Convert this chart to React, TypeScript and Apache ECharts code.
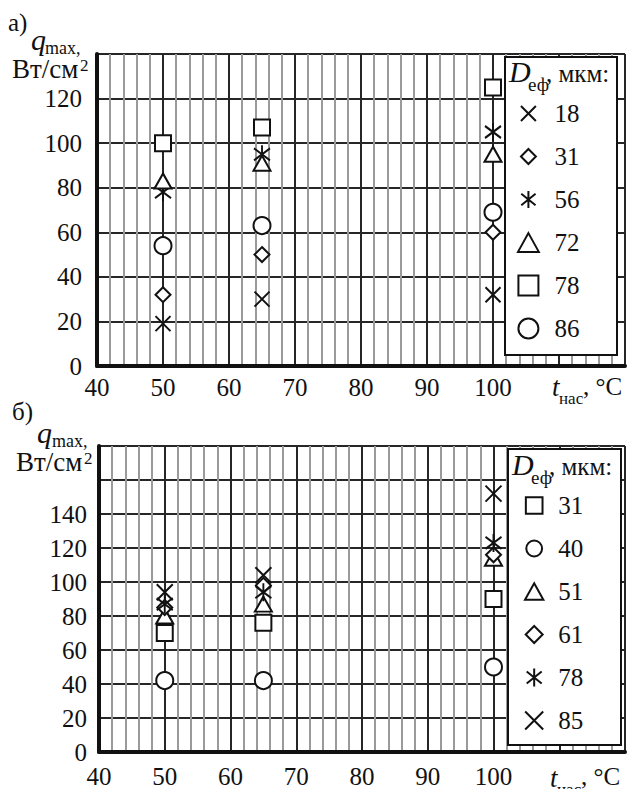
import { useEffect, useRef } from "react";
import * as echarts from "echarts";

// ---- data: panel а) ----
const tempA = [50, 65, 100];
const qA18 = [19, 30, 32];
const qA31 = [32, 50, 60];
const qA56 = [78, 95, 105];
const qA72 = [83, 91, 95];
const qA78 = [100, 107, 125];
const qA86 = [54, 63, 69];

// ---- data: panel б) ----
const tempB = [50, 65, 100];
const qB31 = [70, 76, 90];
const qB40 = [42, 42, 50];
const qB51 = [80, 87, 114];
const qB61 = [85, 98, 116];
const qB78 = [87, 94, 123];
const qB85 = [94, 104, 152];

const xTicksShown = [40, 50, 60, 70, 80, 90, 100];
const yTicksA = [0, 20, 40, 60, 80, 100, 120];
const yTicksB = [0, 20, 40, 60, 80, 100, 120, 140];

const SERIF = "'Liberation Serif', 'Times New Roman', Times, serif";
const INK = "#111";

const X_PATH = "path://M0,0L10,10M10,0L0,10";
const AST_PATH = "path://M5,-1L5,11M0,1L10,9M10,1L0,9";

function padPath(body: string, px: number, py: number, w = 10, h = 10) {
  return `path://M${-px},${-py}M${w + px},${h + py}${body}`;
}
const B_X = "M0,0L10,10M10,0L0,10";
const B_DIA = "M5,0L10,5L5,10L0,5Z";
const B_AST = "M5,0L5,12M0,2L10,10M10,2L0,10";
const B_RECT = "M0,0L10,0L10,10L0,10Z";
const B_CIRC = "M0,5A5,5,0,1,1,10,5A5,5,0,1,1,0,5Z";
const B_TRI = "M5,0L10,9L0,9Z";

function txt(text: string, x: number, baseline: number, size: number, italic = false) {
  return {
    type: "text",
    x,
    y: baseline - 0.34 * size,
    z: 100,
    style: {
      text,
      fontFamily: SERIF,
      fontSize: size,
      fontStyle: italic ? "italic" : "normal",
      fill: INK,
      textAlign: "left",
      textVerticalAlign: "middle",
    },
  };
}

function box(x: number, y: number, w: number, h: number) {
  return {
    type: "rect",
    z: 5,
    shape: { x, y, width: w, height: h },
    style: { fill: "#fff", stroke: INK, lineWidth: 2 },
  };
}

function mkX(gridIndex: number, margin: number) {
  return {
    type: "value",
    gridIndex,
    min: 40,
    max: 120,
    interval: 10,
    axisLine: { show: true, onZero: false, lineStyle: { color: INK, width: 4 } },
    axisTick: { show: false },
    minorTick: { show: false, splitNumber: 5 },
    axisLabel: {
      margin,
      fontFamily: SERIF,
      fontSize: 25,
      color: INK,
      formatter: (v: number) => (xTicksShown.includes(v) ? String(v) : ""),
    },
    splitLine: { show: true, lineStyle: { color: "#262626", width: 2 } },
    minorSplitLine: { show: true, lineStyle: { color: "#9a9a9a", width: 2 } },
  };
}

function mkY(gridIndex: number, max: number, shown: number[], margin: number) {
  return {
    type: "value",
    gridIndex,
    min: 0,
    max,
    interval: 20,
    axisLine: { show: true, onZero: false, lineStyle: { color: INK, width: 4 } },
    axisTick: { show: false },
    axisLabel: {
      margin,
      fontFamily: SERIF,
      fontSize: 25,
      color: INK,
      formatter: (v: number) => (shown.includes(v) ? String(v) : ""),
    },
    splitLine: { show: true, lineStyle: { color: "#262626", width: 2 } },
  };
}

function mkSeries(
  name: string,
  xs: number[],
  ys: number[],
  symbol: string,
  symbolSize: number | number[],
  idx: number
) {
  return {
    type: "scatter",
    name,
    xAxisIndex: idx,
    yAxisIndex: idx,
    data: xs.map((x, i) => [x, ys[i]]),
    symbol,
    symbolSize,
    itemStyle: { color: "#fff", borderColor: INK, borderWidth: 2, opacity: 1 },
    emphasis: { disabled: true },
    z: 3,
  };
}

const legendText = {
  fontFamily: SERIF,
  fontSize: 25,
  color: INK,
};

export default function App() {
  const ref = useRef<HTMLDivElement>(null);
  useEffect(() => {
    if (!ref.current) return;
    const chart = echarts.init(ref.current, undefined, { renderer: "svg" });
    const option: any = {
      animation: false,
      backgroundColor: "#fff",
      textStyle: { fontFamily: SERIF },
      grid: [
        { left: 97, top: 54, right: -1, bottom: 423 },
        { left: 99, top: 446, right: -3, bottom: 36 },
      ],
      xAxis: [mkX(0, 9), mkX(1, 12)],
      yAxis: [mkY(0, 140, yTicksA, 15), mkY(1, 180, yTicksB, 12)],
      legend: [
        {
          orient: "vertical",
          left: 517,
          top: 101,
          padding: 0,
          itemWidth: 42,
          itemHeight: 20,
          itemGap: 18,
          selectedMode: false,
          textStyle: legendText,
          formatter: (n: string) => n.slice(1),
          data: [
            { name: "a18", icon: padPath(B_X, 1.7, 1.7) },
            { name: "a31", icon: padPath(B_DIA, 1.7, 1.7) },
            { name: "a56", icon: padPath(B_AST, 1, 1, 10, 12) },
            { name: "a72", icon: padPath(B_TRI, 0, 0.3, 10, 9) },
            { name: "a78", icon: padPath(B_RECT, 0, 0) },
            { name: "a86", icon: padPath(B_CIRC, 0, 0) },
          ],
          z: 10,
        },
        {
          orient: "vertical",
          left: 524,
          top: 493,
          padding: 0,
          itemWidth: 38,
          itemHeight: 18,
          itemGap: 18,
          selectedMode: false,
          textStyle: legendText,
          formatter: (n: string) => n.slice(1),
          data: [
            { name: "b31", icon: padPath(B_RECT, 0.4, 0.4) },
            { name: "b40", icon: padPath(B_CIRC, 0.7, 0.7) },
            { name: "b51", icon: padPath(B_TRI, 0, 0.4, 10, 9) },
            { name: "b61", icon: padPath(B_DIA, 0.3, 0.3) },
            { name: "b78", icon: padPath(B_AST, 0, 0, 10, 12) },
            { name: "b85", icon: padPath(B_X, 0, 0) },
          ],
          z: 10,
        },
      ],
      series: [
        mkSeries("a18", tempA, qA18, X_PATH, 15, 0),
        mkSeries("a31", tempA, qA31, "diamond", 15, 0),
        mkSeries("a56", tempA, qA56, AST_PATH, [16, 18], 0),
        mkSeries("a72", tempA, qA72, "triangle", [17, 15], 0),
        mkSeries("a78", tempA, qA78, "rect", 16, 0),
        mkSeries("a86", tempA, qA86, "circle", 17, 0),
        mkSeries("b31", tempB, qB31, "rect", 16, 1),
        mkSeries("b40", tempB, qB40, "circle", 17, 1),
        mkSeries("b51", tempB, qB51, "triangle", [17, 15], 1),
        mkSeries("b61", tempB, qB61, "diamond", 15, 1),
        mkSeries("b78", tempB, qB78, AST_PATH, [16, 18], 1),
        mkSeries("b85", tempB, qB85, X_PATH, 16, 1),
      ],
      graphic: [
        box(505, 57, 112, 298),
        box(508, 449, 113, 296),
        // panel а)
        txt("а)", 8, 31, 25),
        txt("q", 31, 50, 30, true),
        txt("max,", 45, 54, 18),
        txt("Вт/см", 12, 78, 27),
        txt("2", 80, 71, 17),
        txt("t", 552, 396, 27, true),
        txt("нас", 559, 404, 17),
        txt(", °C", 583, 395, 25),
        txt("D", 509, 82, 30, true),
        txt("еф", 528, 91, 19),
        txt(", мкм:", 546, 82, 25),
        // panel б)
        txt("б)", 12, 420, 25),
        txt("q", 37, 443, 30, true),
        txt("max,", 52, 447, 18),
        txt("Вт/см", 16, 471, 27),
        txt("2", 84, 464, 17),
        txt("t", 550, 787, 27, true),
        txt("нас", 557, 795, 17),
        txt(", °C", 581, 785, 25),
        txt("D", 512, 475, 30, true),
        txt("еф", 531, 484, 19),
        txt(", мкм:", 549, 475, 25),
      ],
    };
    chart.setOption(option);
    return () => chart.dispose();
  }, []);
  return (
    <div
      ref={ref}
      style={{ position: "absolute", left: 0, top: 0, width: 628, height: 789, background: "#fff" }}
    />
  );
}
